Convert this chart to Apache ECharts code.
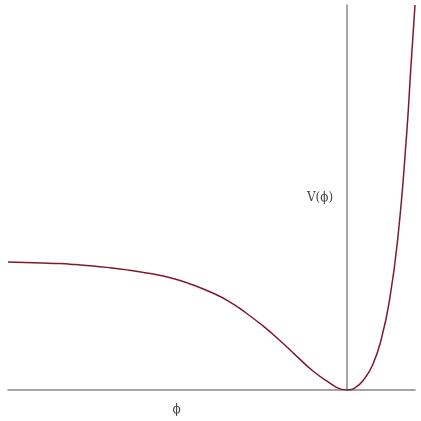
<!DOCTYPE html>
<html>
<head>
<meta charset="utf-8">
<script src="https://cdn.jsdelivr.net/npm/echarts@6/dist/echarts.min.js"></script>
<style>html,body{margin:0;padding:0;background:#fff}#c{width:421px;height:421px}</style>
</head>
<body>
<div id="c"></div>
<script>
const phi = [-10, -9.5, -9, -8.5, -8, -7.5, -7, -6.5, -6, -5.5, -5, -4.5, -4, -3.5, -3, -2.5, -2, -1.5, -1, -0.5, -0.25, 0,
             0.25, 0.5, 0.75, 1.0, 1.25, 1.5, 1.75, 1.875, 2.0];
const V =   [0.997, 0.994, 0.990, 0.985, 0.977, 0.967, 0.953, 0.936, 0.916, 0.892, 0.859, 0.814, 0.760, 0.693, 0.604, 0.503, 0.390, 0.266, 0.146, 0.052, 0.013, 0,
             0.02, 0.085, 0.195, 0.39, 0.70, 1.2, 1.98, 2.5, 3.0];
const xName = 'ϕ';
const yName = 'V(ϕ)';

const chart = echarts.init(document.getElementById('c'), null, {renderer: 'canvas'});
chart.setOption({
  animation: false,
  backgroundColor: '#fff',
  grid: {left: 8, right: 6, top: 5, bottom: 31, containLabel: false, outerBoundsMode: 'none'},
  xAxis: {
    type: 'value', min: -10, max: 2,
    name: xName, nameLocation: 'middle', nameGap: 14,
    nameTextStyle: {color: '#444', fontSize: 12, fontFamily: 'DejaVu Serif', padding: [0, 70, 0, 0]},
    axisLine: {lineStyle: {color: '#888', width: 1.5}},
    axisTick: {show: false}, axisLabel: {show: false}, splitLine: {show: false}
  },
  yAxis: {
    type: 'value', min: 0, max: 3,
    axisLine: {onZero: true, lineStyle: {color: '#888', width: 1.5}},
    axisTick: {show: false}, axisLabel: {show: false}, splitLine: {show: false}
  },
  series: [{
    type: 'line',
    data: phi.map((p, i) => [p, V[i]]),
    smooth: 0.5,
    showSymbol: false,
    clip: true,
    lineStyle: {color: '#7d1a2e', width: 1.5}
  }]
});
const pos = chart.convertToPixel({gridIndex: 0}, [0, 1.5]);
chart.setOption({
  graphic: [{
    type: 'text', x: pos[0] - 14, y: pos[1],
    style: {text: yName, fill: '#444', font: '12px "DejaVu Serif"', align: 'right', verticalAlign: 'middle'}
  }]
});
</script>
</body>
</html>
